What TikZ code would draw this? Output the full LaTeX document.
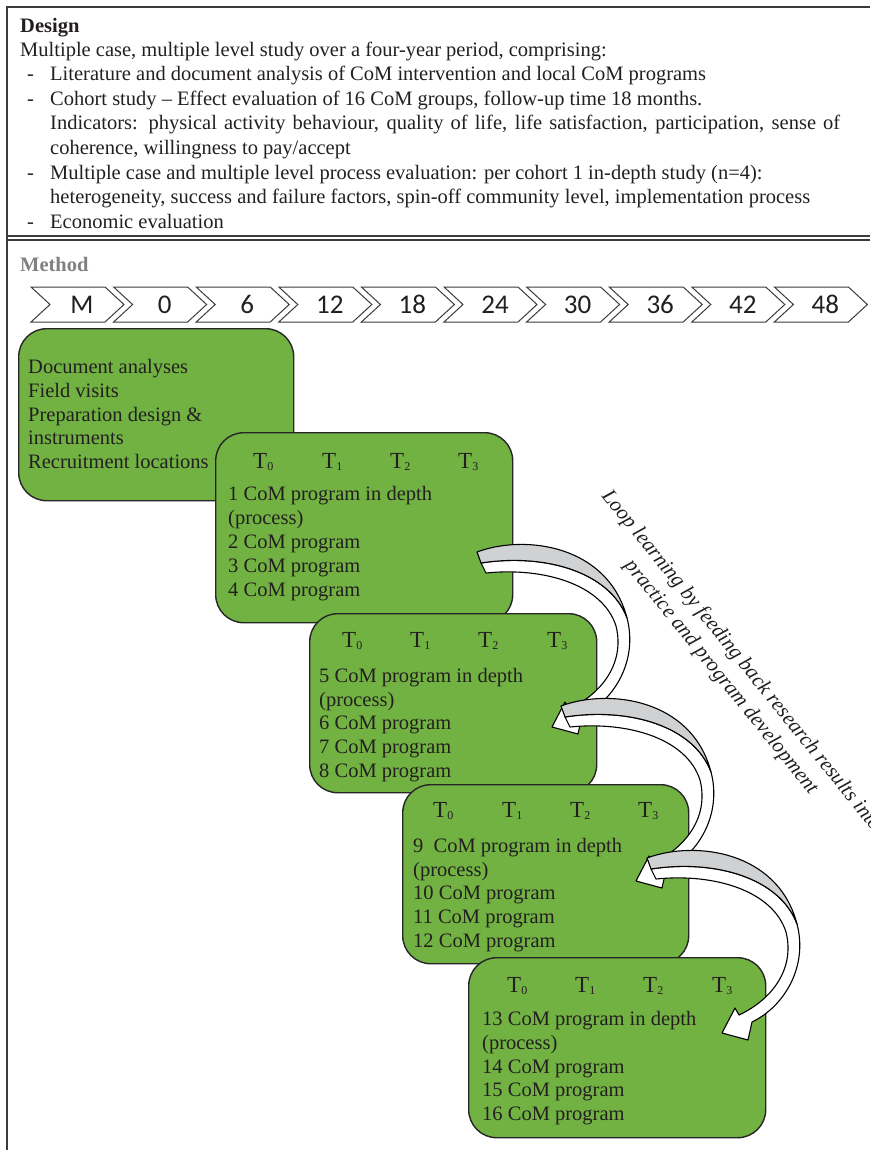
\documentclass[tikz,border=0pt]{standalone}
\usepackage{fontspec}
\setmainfont{Liberation Serif}
\newfontfamily\chevfont{Carlito}
\definecolor{inkc}{RGB}{35,31,32}
\definecolor{framec}{RGB}{60,60,60}
\definecolor{greenc}{RGB}{113,178,66}
\definecolor{boxline}{RGB}{38,38,38}
\definecolor{bandgray}{RGB}{208,209,211}
\definecolor{methodgray}{RGB}{128,128,128}
% curved feedback arrow (white ribbon with grey back face), shifted by #1,#2
\newcommand\feedbackarrow[2]{%
  \begin{scope}[shift={(#1,#2)}]
    \draw[arrowline, fill=white]
      (481,563) .. controls (545,553) and (610,572) .. (627,618)
      .. controls (638,660) and (615,700) .. (582,716)
      -- (578,734) -- (552,727) -- (565,702) -- (569,709)
      .. controls (603,693) and (625,662) .. (616,626)
      .. controls (603,585) and (545,567) .. (486,573) -- cycle;
    \draw[arrowline, fill=bandgray]
      (477,552) .. controls (525,534) and (608,545) .. (627,618)
      .. controls (610,572) and (545,553) .. (481,563) -- cycle;
  \end{scope}}
\begin{document}
\begin{tikzpicture}[x=1pt,y=-1pt,
  body/.style={anchor=base west, inner sep=0pt, text=inkc, font=\fontsize{20.5}{24}\selectfont},
  head/.style={body, font=\fontsize{20.5}{24}\selectfont\bfseries},
  frame/.style={draw=framec, line width=1.1pt},
  chev/.style={draw=framec, line width=1pt, fill=white, line join=miter},
  chevtxt/.style={anchor=base, inner sep=0pt, text=inkc, font=\chevfont\fontsize{27}{30}\selectfont},
  gbox/.style={draw=boxline, line width=1.4pt, fill=greenc, rounded corners=28pt, anchor=north west, inner sep=0pt},
  tlab/.style={anchor=base west, inner sep=0pt, text=inkc, font=\fontsize{23}{26}\selectfont},
  arrowline/.style={draw=black, line width=1.1pt, line join=round},
  looptxt/.style={inner sep=0pt, text=inkc, align=center, font=\fontsize{21}{26}\selectfont\itshape},
]
\useasboundingbox (0,0) rectangle (870,1150);
\newcommand\Tsub[1]{T\raisebox{-2pt}{\fontsize{12}{12}\selectfont #1}}

% outer frame and the double rule between the two sections
\draw[frame] (7,1150) -- (7,7) -- (870,7);
\draw[frame] (7,236) -- (870,236);
\draw[frame] (7,240) -- (870,240);

% design section
\node[head] (design) at (20,33) {Design};
\node[body] (d0) at (20,56.3) {Multiple case, multiple level study over a four-year period, comprising:};
\node[body] (m1) at (27,80.9) {-};
\node[body] (d1) at (50,80.9) {Literature and document analysis of CoM intervention and local CoM programs};
\node[body] (m2) at (27,105.4) {-};
\node[body] (d2) at (50,105.4) {Cohort study -- Effect evaluation of 16 CoM groups, follow-up time 18 months.};
\node[body] (d3) at (50,130) {\makebox[790pt][s]{Indicators: physical activity behaviour, quality of life, life satisfaction, participation, sense of}};
\node[body] (d4) at (50,154.6) {coherence, willingness to pay/accept};
\node[body] (m3) at (27,179.1) {-};
\node[body] (d5) at (50,179.1) {Multiple case and multiple level process evaluation: per cohort 1 in-depth study (n=4):};
\node[body] (d6) at (50,203.7) {heterogeneity, success and failure factors, spin-off community level, implementation process};
\node[body] (m4) at (27,228.3) {-};
\node[body] (d7) at (50,228.3) {Economic evaluation};

% method section
\node[head, text=methodgray] (method) at (20,271) {Method};

% timeline chevrons
\foreach \lab [count=\i from 0] in {M,0,6,12,18,24,30,36,42,48}{
  \pgfmathsetmacro\a{31+82.6*\i}
  \draw[chev] (\a,287) -- ++(74,0) -- ++(19,17.5) -- ++(-19,17.5) -- ++(-74,0) -- ++(19,-17.5) -- cycle;
  \node[chevtxt] (c\i) at (\a+51,313.5) {\lab};
}

% preparation block
\node[gbox, minimum width=275, minimum height=172] (b1) at (18,328) {};
\node[body] (p1) at (28,373) {Document analyses};
\node[body] (p2) at (28,397) {Field visits};
\node[body] (p3) at (28,421) {Preparation design \&};
\node[body] (p4) at (28,444.5) {instruments};
\node[body] (p5) at (28,468) {Recruitment locations};

% cohort 1
\node[gbox, minimum width=297, minimum height=190] (b2) at (215,432) {};
\node[tlab] (t20) at (253,468) {\Tsub{0}};
\node[tlab] (t21) at (322,468) {\Tsub{1}};
\node[tlab] (t22) at (390,468) {\Tsub{2}};
\node[tlab] (t23) at (458,468) {\Tsub{3}};
\node[body] (q1) at (228,500) {1 CoM program in depth};
\node[body] (q2) at (228,524) {(process)};
\node[body] (q3) at (228,548) {2 CoM program};
\node[body] (q4) at (228,572) {3 CoM program};
\node[body] (q5) at (228,596) {4 CoM program};

% cohort 2
\node[gbox, minimum width=287, minimum height=179] (b3) at (309,613) {};
\node[tlab] (t30) at (342,647) {\Tsub{0}};
\node[tlab] (t31) at (410,647) {\Tsub{1}};
\node[tlab] (t32) at (478,647) {\Tsub{2}};
\node[tlab] (t33) at (547,647) {\Tsub{3}};
\node[body] (r1) at (319,682) {5 CoM program in depth};
\node[body] (r2) at (319,706) {(process)};
\node[body] (r3) at (319,729) {6 CoM program};
\node[body] (r4) at (319,753) {7 CoM program};
\node[body] (r5) at (319,777) {8 CoM program};

% cohort 3
\node[gbox, minimum width=286, minimum height=179] (b4) at (402,784) {};
\node[tlab] (t40) at (433,817) {\Tsub{0}};
\node[tlab] (t41) at (502,817) {\Tsub{1}};
\node[tlab] (t42) at (570,817) {\Tsub{2}};
\node[tlab] (t43) at (638,817) {\Tsub{3}};
\node[body] (s1) at (413,852) {9\ \ CoM program in depth};
\node[body] (s2) at (413,876) {(process)};
\node[body] (s3) at (413,899) {10 CoM program};
\node[body] (s4) at (413,923) {11 CoM program};
\node[body] (s5) at (413,947) {12 CoM program};

% cohort 4
\node[gbox, minimum width=297, minimum height=180] (b5) at (468,957) {};
\node[tlab] (t50) at (507,992) {\Tsub{0}};
\node[tlab] (t51) at (575,992) {\Tsub{1}};
\node[tlab] (t52) at (643,992) {\Tsub{2}};
\node[tlab] (t53) at (712,992) {\Tsub{3}};
\node[body] (u1) at (482,1025) {13 CoM program in depth};
\node[body] (u2) at (482,1049) {(process)};
\node[body] (u3) at (482,1073) {14 CoM program};
\node[body] (u4) at (482,1096) {15 CoM program};
\node[body] (u5) at (482,1120) {16 CoM program};

% feedback loops between cohorts
\feedbackarrow{0}{0}
\feedbackarrow{84}{154}
\feedbackarrow{170}{306}

% loop-learning caption
\node[looptxt, rotate=-51] (loop) at (731,669)
  {Loop learning by feeding back research results into\\practice and program development};
\end{tikzpicture}
\end{document}
